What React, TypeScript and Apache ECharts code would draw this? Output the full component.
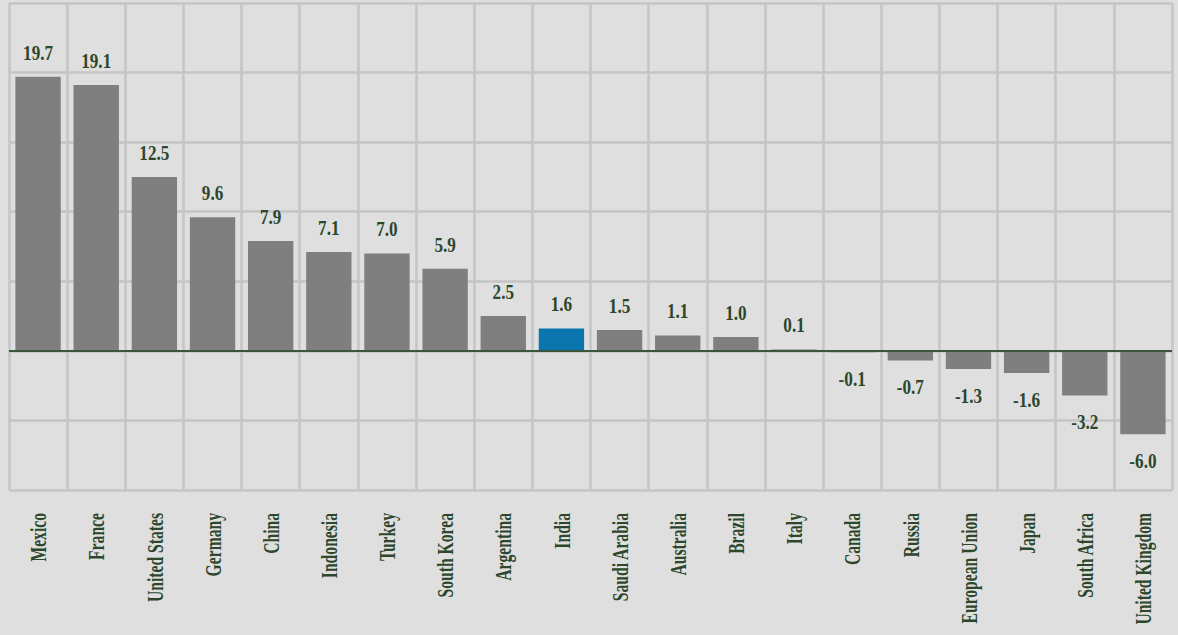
import React, { useEffect, useRef } from "react";
import * as echarts from "echarts";

// Change in value by economy (sorted high to low)
const countries: string[] = [
  "Mexico", "France", "United States", "Germany", "China", "Indonesia", "Turkey",
  "South Korea", "Argentina", "India", "Saudi Arabia", "Australia", "Brazil", "Italy",
  "Canada", "Russia", "European Union", "Japan", "South Africa", "United Kingdom",
];
const values: number[] = [
  19.7, 19.1, 12.5, 9.6, 7.9, 7.1, 7.0, 5.9, 2.5, 1.6, 1.5, 1.1, 1.0, 0.1,
  -0.1, -0.7, -1.3, -1.6, -3.2, -6.0,
];
const highlighted = "India";

const yMin = -10;
const yMax = 25;
const yStep = 5;

const BG = "#dfdfdf";
const GRID = "#c5c5c5";
const BAR = "#7f7f7f";
const BAR_HL = "#0a76ad";
const TEXT = "#2c472c";
const FONT = "'Liberation Serif', 'DejaVu Serif', serif";

export default function App() {
  const ref = useRef<HTMLDivElement>(null);

  useEffect(() => {
    if (!ref.current) return;
    const chart = echarts.init(ref.current, undefined, { renderer: "svg" });

    const option: echarts.EChartsOption = {
      animation: false,
      backgroundColor: BG,
      grid: { left: 9, right: 6, top: 3, bottom: 145, containLabel: false },
      xAxis: {
        type: "category",
        data: countries,
        boundaryGap: true,
        axisLine: { show: false },
        axisTick: { show: false },
        axisLabel: { show: false },
        splitLine: { show: true, interval: 0, lineStyle: { color: GRID, width: 2.5 } },
      },
      yAxis: {
        type: "value",
        min: yMin,
        max: yMax,
        interval: yStep,
        axisLine: { show: false },
        axisTick: { show: false },
        axisLabel: { show: false },
        splitLine: { show: true, lineStyle: { color: GRID, width: 2.5 } },
      },
      series: [
        {
          type: "bar",
          barCategoryGap: "22%",
          data: values.map((v, i) => ({
            value: v,
            itemStyle: { color: countries[i] === highlighted ? BAR_HL : BAR },
          })),
          markLine: {
            silent: true,
            symbol: ["none", "none"],
            label: { show: false },
            lineStyle: { color: "#3b553b", width: 2, type: "solid" },
            data: [{ yAxis: 0 }],
          },
        },
        {
          // value labels and rotated, condensed category labels
          type: "custom",
          coordinateSystem: "cartesian2d",
          clip: false,
          silent: true,
          z: 5,
          data: values.map((v, i) => [i, v]),
          renderItem: (params: any, api: any) => {
            const idx = api.value(0);
            const val = api.value(1);
            const top = api.coord([idx, val]);
            const base = api.coord([idx, yMin]);
            const pos = val >= 0;
            return {
              type: "group",
              children: [
                {
                  type: "text",
                  x: top[0],
                  y: pos ? top[1] - 14 : top[1] + 15,
                  scaleX: 0.78,
                  style: {
                    text: val.toFixed(1),
                    fill: TEXT,
                    font: `bold 22px ${FONT}`,
                    align: "center",
                    verticalAlign: pos ? "bottom" : "top",
                  },
                },
                {
                  type: "text",
                  x: base[0],
                  y: base[1] + 23,
                  rotation: Math.PI / 2,
                  scaleX: 0.68,
                  style: {
                    text: countries[idx],
                    fill: TEXT,
                    font: `bold 23px ${FONT}`,
                    align: "right",
                    verticalAlign: "middle",
                  },
                },
              ],
            };
          },
        },
      ],
    };

    chart.setOption(option);
    return () => chart.dispose();
  }, []);

  return (
    <div
      ref={ref}
      style={{ position: "fixed", left: 0, top: 0, width: 1178, height: 635, background: BG }}
    />
  );
}
